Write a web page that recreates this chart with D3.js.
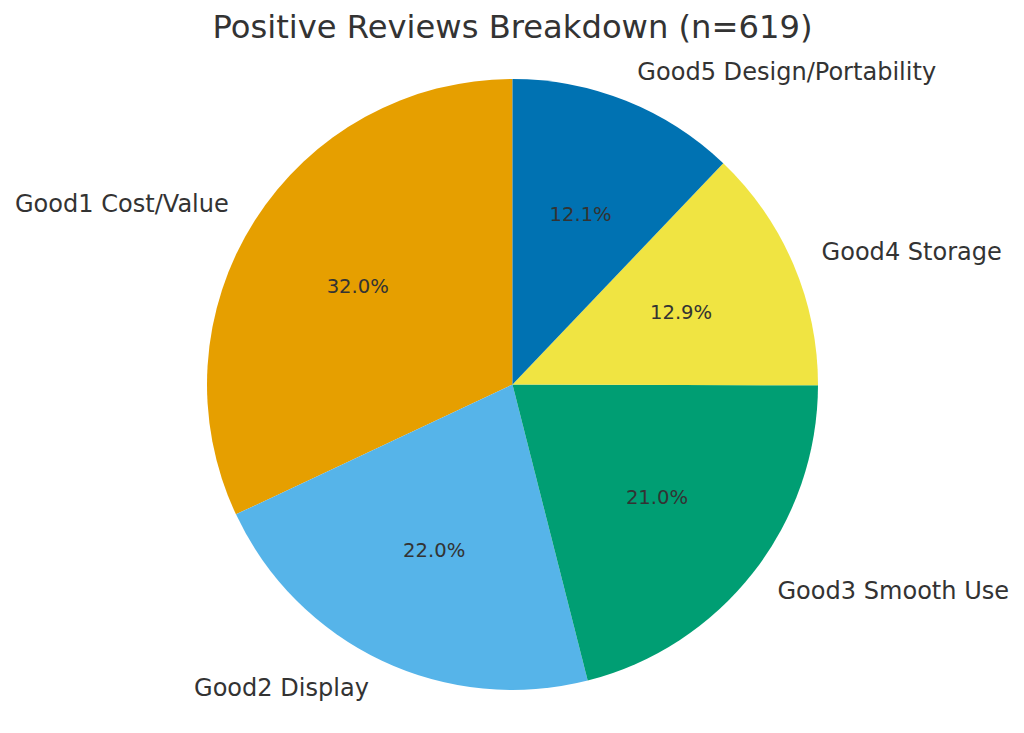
<!DOCTYPE html>
<html>
<head>
<meta charset="utf-8">
<script src="https://cdn.jsdelivr.net/npm/d3@7"></script>
<style>
  html, body { margin: 0; padding: 0; background: #fff; }
  svg { display: block; }
</style>
</head>
<body>
<svg id="chart" width="1024" height="733"></svg>
<script>
const categories = ["Good1 Cost/Value", "Good2 Display", "Good3 Smooth Use", "Good4 Storage", "Good5 Design/Portability"];
const counts = [198, 136, 130, 80, 75];
const colors = ["#E69F00", "#56B4E9", "#009E73", "#F0E442", "#0072B2"];
const title = "Positive Reviews Breakdown (n=619)";

const W = 1024, H = 733;
const cx = 512.5, cy = 384.5, R = 305.5;
const textColor = "#333333";
const font = "'DejaVu Sans', sans-serif";

const svg = d3.select("#chart");
const data = categories.map((c, i) => ({ name: c, value: counts[i], color: colors[i] }));
const total = d3.sum(counts);

// matplotlib: startangle=90, counterclockwise. d3 angles: 0 at 12 o'clock, clockwise.
const pie = d3.pie().value(d => d.value).sort(null)
  .startAngle(0).endAngle(-2 * Math.PI);
const arcs = pie(data);
const arc = d3.arc().innerRadius(0).outerRadius(R);

const g = svg.append("g").attr("transform", `translate(${cx},${cy})`);
g.selectAll("path.slice").data(arcs).enter().append("path")
  .attr("class", "slice")
  .attr("d", arc)
  .attr("fill", d => d.data.color);

function pos(d, f) {
  const a = (d.startAngle + d.endAngle) / 2; // d3 angle
  return [f * R * Math.sin(a), -f * R * Math.cos(a)];
}

// percentage labels
g.selectAll("text.pct").data(arcs).enter().append("text")
  .attr("class", "pct")
  .attr("x", d => pos(d, 0.6)[0])
  .attr("y", d => pos(d, 0.6)[1])
  .attr("text-anchor", "middle")
  .attr("dy", "0.35em")
  .attr("font-family", font)
  .attr("font-size", 19.6)
  .attr("fill", textColor)
  .text(d => (d.data.value / total * 100).toFixed(1) + "%");

// category labels
g.selectAll("text.lab").data(arcs).enter().append("text")
  .attr("class", "lab")
  .attr("x", d => pos(d, 1.1)[0])
  .attr("y", d => pos(d, 1.1)[1])
  .attr("text-anchor", d => pos(d, 1.1)[0] > 0 ? "start" : "end")
  .attr("dy", "0.31em")
  .attr("font-family", font)
  .attr("font-size", 24.05)
  .attr("fill", textColor)
  .text(d => d.data.name);

svg.append("text")
  .attr("x", cx)
  .attr("y", 38)
  .attr("text-anchor", "middle")
  .attr("font-family", font)
  .attr("font-size", 32.2)
  .attr("fill", textColor)
  .text(title);
</script>
</body>
</html>
